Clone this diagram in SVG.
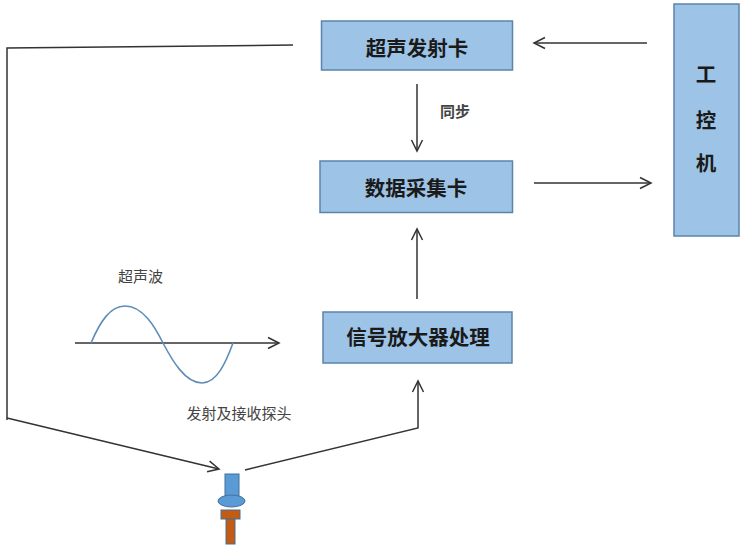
<svg xmlns="http://www.w3.org/2000/svg" width="745" height="548" viewBox="0 0 745 548">
<defs>
<marker id="a" markerUnits="userSpaceOnUse" markerWidth="16" markerHeight="16" refX="13" refY="8" orient="auto"><path d="M2 2.500 L13 8 L2 13.500" fill="none" stroke="#333" stroke-width="1.500"/></marker>
</defs>
<style>
.box{fill:#9dc3e6;stroke:#5b84ad;stroke-width:1.5}
.lb{font-family:"Noto Sans CJK SC","Noto Sans CJK JP",sans-serif;font-weight:700;font-size:20.5px;fill:#1a1a1a;text-anchor:middle}
.sm{font-family:"Noto Sans CJK SC","Noto Sans CJK JP",sans-serif;font-size:15px;fill:#444;text-anchor:middle}
.c{fill:none;stroke:#333;stroke-width:1.5}
.m{marker-end:url(#a)}
</style>
<g id="connectors">
<path class="c" d="M293 45 L7 48 L7 420"/>
<path class="c m" d="M7 418 L219 469"/>
<path class="c m" d="M245 470 L418 428 L418 381"/>
<path class="c m" d="M417 299 L417 229"/>
<path class="c m" d="M417 84 L417 151"/>
<path class="c m" d="M647 43 L534 43"/>
<path class="c m" d="M534 183 L651 183"/>
</g>
<g id="wave">
<path class="c m" d="M75 343 L279 343"/>
<path d="M91 343 C100 322 110 306 125 306 C143 306 155 327 163 343 C172 360 185 383 202 383 C217 383 226 362 233 343" fill="none" stroke="#5f8db8" stroke-width="1.600"/>
<text class="sm" x="140.500" y="282">超声波</text>
</g>
<g id="n1"><rect class="box" x="321.500" y="21" width="191" height="49"/><text class="lb" x="417" y="56">超声发射卡</text></g>
<g id="n2"><rect class="box" x="320" y="161" width="192.500" height="51.500"/><text class="lb" x="416" y="196">数据采集卡</text></g>
<g id="n3"><rect class="box" x="323" y="312" width="189" height="51"/><text class="lb" x="418" y="345">信号放大器处理</text></g>
<g id="n4"><rect class="box" x="674" y="4" width="65" height="232"/><text class="lb" x="706" y="82">工</text><text class="lb" x="706" y="128">控</text><text class="lb" x="706" y="171">机</text></g>
<g id="sync"><text class="sm" x="455" y="117" font-weight="700">同步</text></g>
<g id="probe-label"><text class="sm" x="239" y="419">发射及接收探头</text></g>
<g id="probe">
<rect x="225" y="474" width="14" height="25" fill="#5b9bd5" stroke="#41719c"/>
<ellipse cx="231.500" cy="501" rx="13.500" ry="6" fill="#5b9bd5" stroke="#41719c"/>
<rect x="221" y="510" width="19" height="9" fill="#c55a11" stroke="#41719c"/>
<rect x="226" y="519" width="9" height="25" fill="#c55a11" stroke="#41719c"/>
</g>
</svg>
